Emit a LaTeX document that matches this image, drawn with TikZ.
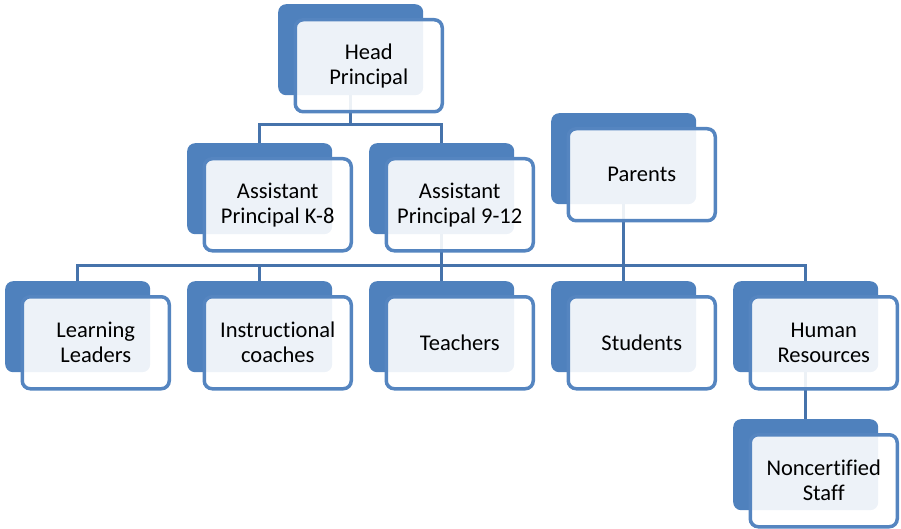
\documentclass[tikz,border=0pt]{standalone}
\usepackage{fontspec}
\setmainfont{Carlito}[Ligatures=NoCommon]
\usetikzlibrary{backgrounds}
\definecolor{backblue}{HTML}{4F81BD}
\definecolor{edgeblue}{HTML}{5585C0}
\definecolor{lineblue}{HTML}{4673AB}
\tikzset{
 backbox/.style={fill=backblue, rounded corners=8pt, minimum width=145pt, minimum height=91pt, inner sep=0pt, anchor=north west},
 frontbox/.style={draw=edgeblue, line width=3.5pt, fill=white, fill opacity=0.9, text opacity=1, rounded corners=8pt, minimum width=147pt, minimum height=92pt, inner sep=0pt, anchor=north west, align=center, font=\fontsize{22.5pt}{25pt}\selectfont},
 conn/.style={draw=lineblue, line width=3pt}
}
\begin{document}
\begin{tikzpicture}[x=1pt,y=-1pt]
\useasboundingbox (0,0) rectangle (901,529);
\node[backbox] (hpb) at (278,4) {};
\node[frontbox] (hp) at (293.5,18) {Head\\Principal};
\node[backbox] (akb) at (187,143) {};
\node[frontbox] (ak) at (202.5,157) {Assistant\\Principal K-8};
\node[backbox] (anb) at (369,143) {};
\node[frontbox] (an) at (384.5,157) {Assistant\\Principal 9-12};
\node[backbox] (pab) at (551,113) {};
\node[frontbox] (pa) at (566.5,127) {Parents};
\node[backbox] (llb) at (5,281) {};
\node[frontbox] (ll) at (20.5,295) {Learning\\Leaders};
\node[backbox] (icb) at (187,281) {};
\node[frontbox] (ic) at (202.5,295) {Instructional\\coaches};
\node[backbox] (tcb) at (369,281) {};
\node[frontbox] (tc) at (384.5,295) {Teachers};
\node[backbox] (stb) at (551,281) {};
\node[frontbox] (st) at (566.5,295) {Students};
\node[backbox] (hrb) at (733,281) {};
\node[frontbox] (hr) at (748.5,295) {Human\\Resources};
\node[backbox] (ncb) at (733,419) {};
\node[frontbox] (nc) at (748.5,433) {Noncertified\\Staff};
\coordinate (top) at (350,125);
\coordinate (bus) at (441,265);
\begin{scope}[on background layer]
\draw[conn] (akb.center) |- (top) -| (anb.center);
\draw[conn] (hpb.center) -- (hpb.center |- top);
\draw[conn] (llb.center) |- (bus) -| (hrb.center);
\draw[conn] (anb.center) -- (tcb.center);
\draw[conn] (pab.center) -- (stb.center);
\draw[conn] (icb.center) -- (icb.center |- bus);
\draw[conn] (hrb.center) -- (ncb.center);
\end{scope}
\end{tikzpicture}
\end{document}
